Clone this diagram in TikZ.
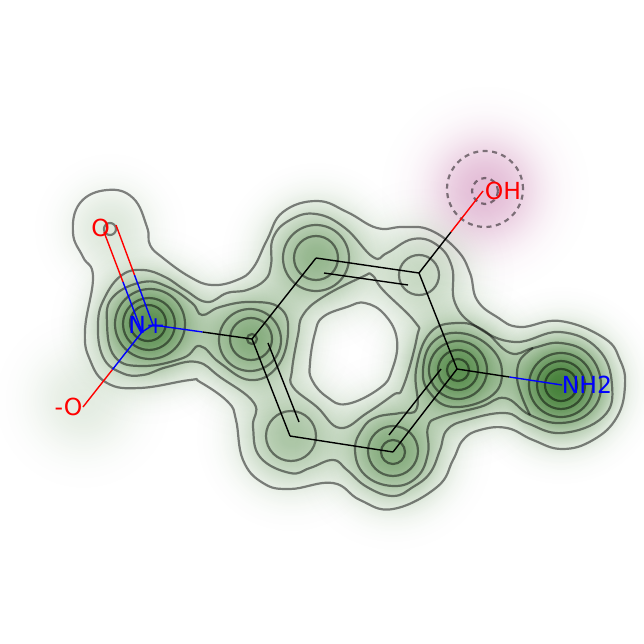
\documentclass[tikz,border=0pt]{standalone}
\usepackage{fontspec}
\setmainfont{DejaVu Sans}
\usetikzlibrary{calc,fadings}
\definecolor{blobgreen}{RGB}{35,105,20}
\definecolor{blobpink}{RGB}{170,50,130}
\definecolor{atomred}{RGB}{255,0,0}
\definecolor{atomblue}{RGB}{0,0,255}
\pgfdeclareradialshading{gaussshade}{\pgfpointorigin}{gray(0bp)=(1);gray(2.5bp)=(.97);gray(5bp)=(.87);gray(7.5bp)=(.72);gray(10bp)=(.53);gray(12.5bp)=(.34);gray(15bp)=(.19);gray(17.5bp)=(.09);gray(20bp)=(.035);gray(22.5bp)=(.01);gray(25bp)=(0);gray(50bp)=(0)}
\pgfdeclarefading{gaussfade}{\pgfuseshading{gaussshade}}
\tikzset{
  contour/.style={draw=black,draw opacity=.48,line width=2.2pt,line join=round},
  dashcontour/.style={contour,dashed,dash pattern=on 5pt off 4.5pt},
  bond/.style={line width=1.4pt,black},
  redbond/.style={line width=1.4pt,atomred},
  bluebond/.style={line width=1.4pt,atomblue},
  atomlabel/.style={inner sep=0pt,font=\fontsize{23.5pt}{23.5pt}\selectfont,anchor=center},
  blob/.style={fill=blobgreen,fill opacity=#1,path fading=gaussfade},
  pinkblob/.style={fill=blobpink,fill opacity=#1,path fading=gaussfade},
  cv/.style={smooth cycle,tension=.72}
}
\newcommand{\gblob}[4][100]{\path[blob=#4] (#2,#3) circle (#1pt);}
\begin{document}
\begin{tikzpicture}[x=1pt,y=-1pt]
\useasboundingbox (0,0) rectangle (644,644);
\fill[white] (0,0) rectangle (644,644);
% density
\gblob{149}{325}{.74}
\gblob{251}{339}{.55}
\gblob{316}{257}{.48}
\gblob{419}{274}{.25}
\gblob{458}{370}{.74}
\gblob{393}{451}{.56}
\gblob{291}{436}{.38}
\gblob{561}{385}{.84}
\gblob[85]{110}{229}{.15}
\gblob[100]{83}{400}{.12}
\path[pinkblob=.32] (485,190) circle (110pt);
% contours: outermost
\draw[contour] plot[cv] coordinates {(107,190)(133,198)(147,227)(150,245)(163,258)(190,277)(212,285)(237,280)(253,268)(267,240)(283,212)(317,201)(347,212)(377,228)(403,227)(430,230)(457,250)(470,273)(477,300)(497,317)(520,327)(560,321)(604,338)(620,360)(625,385)(617,417)(593,440)(562,449)(533,440)(507,428)(480,430)(463,440)(453,460)(437,487)(393,509)(360,500)(333,483)(290,489)(263,483)(243,460)(236,420)(228,402)(200,382)(190,380)(140,388)(107,383)(90,360)(85,330)(93,277)(83,257)(73,233)(80,203)};
\draw[contour] plot[cv] coordinates {(365,303)(385,315)(397,340)(392,370)(380,388)(347,404)(327,397)(312,380)(310,363)(315,333)(323,317)(347,307)};
% second level
\draw[contour] plot[cv] coordinates {(98,323)(105,297)(122,275)(143,270)(165,277)(185,290)(207,302)(227,293)(247,290)(265,280)(271,265)(273,238)(290,220)(316,214)(345,228)(373,257)(387,253)(413,239)(437,245)(452,267)(455,303)(477,327)(515,342)(560,332)(598,349)(612,385)(603,417)(562,433)(527,423)(505,413)(467,420)(447,430)(440,450)(430,473)(413,487)(393,496)(367,487)(347,470)(333,460)(310,468)(290,473)(260,457)(253,427)(254,403)(220,377)(197,362)(167,367)(143,375)(122,373)(103,357)};
\draw[contour] plot[cv] coordinates {(303,315)(323,297)(362,277)(372,275)(383,290)(415,322)(417,337)(403,387)(393,395)(367,413)(340,428)(317,407)(293,387)(292,370)(298,335)};
% third level
\draw[contour] plot[cv] coordinates {(107,323)(113,297)(143,282)(168,287)(192,303)(202,315)(220,307)(250,302)(280,308)(288,333)(277,367)(250,380)(220,363)(200,346)(183,358)(143,366)(115,357)};
\draw[contour] plot[cv] coordinates {(416,370)(430,333)(457,323)(483,330)(510,353)(533,348)(561,343)(589,355)(601,385)(590,412)(561,423)(530,415)(505,398)(480,407)(440,417)(428,427)(428,453)(417,477)(393,486)(365,475)(355,450)(363,428)(377,417)(400,413)(417,408)};
\draw[contour] plot[smooth,tension=.6] coordinates {(533,348)(520,360)(517,378)(522,397)(530,415)};
% closed rings
\draw[contour] (150,324) circle (35pt);
\draw[contour] (149,324) circle (26pt);
\draw[contour] (148,323) circle (18pt);
\draw[contour] (250,340) circle (31pt);
\draw[contour] (251,339) circle (21pt);
\draw[contour] (252,339) circle (5pt);
\draw[contour] (316,258) circle (33pt);
\draw[contour] (316,258) circle (22pt);
\draw[contour] (419,275) circle (20pt);
\draw[contour] plot[cv] coordinates {(423,370)(433,342)(460,333)(490,347)(502,373)(490,397)(453,407)(430,393)};
\draw[contour] (458,370) circle (29pt);
\draw[contour] (458,370) circle (20pt);
\draw[contour] (458,370) circle (11pt);
\draw[contour] (561,385) circle (32pt);
\draw[contour] (561,385) circle (24pt);
\draw[contour] (561,385) circle (16pt);
\draw[contour] (393,451) circle (25pt);
\draw[contour] (393,452) circle (12pt);
\draw[contour] (291,436) circle (25pt);
\draw[contour] (110,229) circle (6pt);
\draw[dashcontour] (485,189) circle (38pt);
\draw[dashcontour] (485,191) circle (13pt);
% atoms
\coordinate (c1) at (252,339);
\coordinate (c2) at (316,258);
\coordinate (c3) at (419,273);
\coordinate (c4) at (457,369);
\coordinate (c5) at (393,452);
\coordinate (c6) at (290,436);
\coordinate (c2i) at (324,273);
\coordinate (c3i) at (408,285);
\coordinate (c4i) at (441,369);
\coordinate (c5i) at (389,435);
\coordinate (c1i) at (268,343);
\coordinate (c6i) at (299,422);
\coordinate (na) at (142,332);
\coordinate (nb) at (153,325);
\coordinate (oa) at (104,232);
\coordinate (ob) at (116,225);
\coordinate (om) at (83,407);
\coordinate (oh) at (483,191);
\coordinate (nh) at (562,385);
% bonds
\draw[bond] (c1) -- (c2);
\draw[bond] (c2) -- (c3);
\draw[bond] (c3) -- (c4);
\draw[bond] (c4) -- (c5);
\draw[bond] (c5) -- (c6);
\draw[bond] (c6) -- (c1);
\draw[bond] (c2i) -- (c3i);
\draw[bond] (c4i) -- (c5i);
\draw[bond] (c1i) -- (c6i);
\draw[bond] (c1) -- ($(c1)!.5!(nb)$);
\draw[bluebond] ($(c1)!.5!(nb)$) -- (nb);
\draw[bluebond] (na) -- (nb);
\draw[redbond] (oa) -- ($(oa)!.5!(na)$);
\draw[bluebond] ($(oa)!.5!(na)$) -- (na);
\draw[redbond] (ob) -- ($(ob)!.5!(nb)$);
\draw[bluebond] ($(ob)!.5!(nb)$) -- (nb);
\draw[redbond] (om) -- ($(om)!.5!(na)$);
\draw[bluebond] ($(om)!.5!(na)$) -- (na);
\draw[bond] (c3) -- ($(c3)!.5!(oh)$);
\draw[redbond] ($(c3)!.5!(oh)$) -- (oh);
\draw[bond] (c4) -- ($(c4)!.5!(nh)$);
\draw[bluebond] ($(c4)!.5!(nh)$) -- (nh);
% labels
\node[atomlabel,text=atomblue] (nplus) at (147,325) {N+};
\node[atomlabel,text=atomred] (odbl) at (100.5,228) {O};
\node[atomlabel,text=atomred] (ominus) at (68.5,407) {-O};
\node[atomlabel,text=atomred] (ohl) at (503,191) {OH};
\node[atomlabel,text=atomblue] (nh2) at (587,385) {NH2};
\end{tikzpicture}
\end{document}
